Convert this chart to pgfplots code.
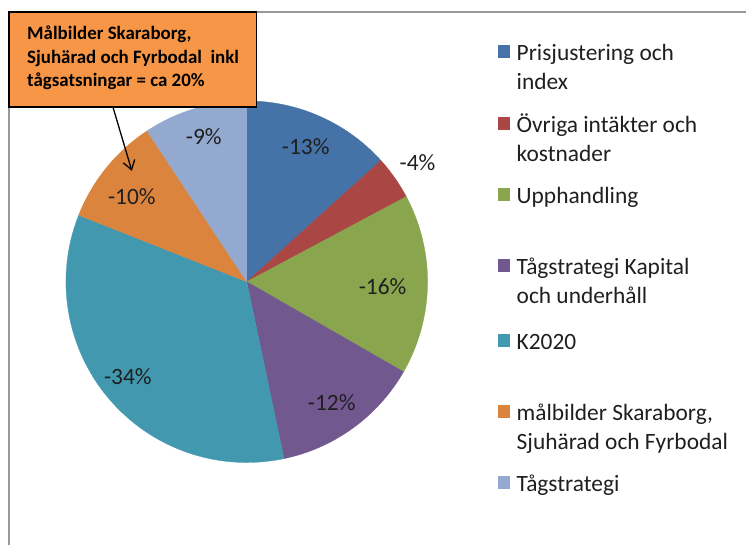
\documentclass[border=0pt]{standalone}
\usepackage{pgfplots}
\pgfplotsset{compat=1.18}
\usepackage{fontspec}
\setmainfont{Carlito}
\usetikzlibrary{arrows.meta}

\definecolor{cBlue}{HTML}{4572A7}
\definecolor{cRed}{HTML}{AA4643}
\definecolor{cGreen}{HTML}{89A54E}
\definecolor{cPurple}{HTML}{71588F}
\definecolor{cTeal}{HTML}{4198AF}
\definecolor{cOrange}{HTML}{DB843D}
\definecolor{cLight}{HTML}{93A9CF}
\definecolor{callout}{HTML}{F79646}
\definecolor{txt}{HTML}{1F1F1F}

% pie centre and radius (in picture pixels)
\def\cx{247}\def\cy{282}\def\rr{181}
% one slice: start %, end %, colour  (clockwise from 12 o'clock)
\newcommand{\slice}[3]{%
  \addplot[fill=#3, draw=#3, line width=0.3pt, domain=#1:#2, samples=60]
    ({\cx+\rr*sin(3.6*x)},{\cy-\rr*cos(3.6*x)}) -- (\cx,\cy) -- cycle;}
% legend text line at baseline y
\newcommand{\legline}[2]{%
  \node[anchor=base west, inner sep=0pt, text=txt,
        font=\fontsize{23.5}{29}\selectfont] at (517,#1) {#2};}
% legend square for entry whose first baseline is y
\newcommand{\legbox}[2]{\fill[#2] (498,#1-16) rectangle (511,#1-3);}
\newcommand{\callline}[2]{%
  \node[anchor=base west, inner sep=0pt, text=black,
        font=\bfseries\fontsize{19}{23.5}\selectfont] at (27,#1) {#2};}

\begin{document}
\begin{tikzpicture}
\begin{axis}[
  scale only axis, width=747bp, height=546bp,
  xmin=0, xmax=747, ymin=0, ymax=546, y dir=reverse,
  hide axis, clip=false,
]
\path (0,0) rectangle (747,546);
% chart frame
\draw[color=black!40, line width=1.5pt] (9,546) -- (9,12) -- (747,12);

% slices: -13, -4, -16, -12, -34, -10, -9 (sizes read from the wedges)
\slice{0}{13.3}{cBlue}
\slice{13.3}{17.2}{cRed}
\slice{17.2}{33.3}{cGreen}
\slice{33.3}{46.7}{cPurple}
\slice{46.7}{81.0}{cTeal}
\slice{81.0}{90.7}{cOrange}
\slice{90.7}{100}{cLight}

% data labels
\begin{scope}[every node/.style={text=txt, font=\fontsize{23.5}{27}\selectfont}]
\node at (306,147) {-13\%};
\node at (418,163) {-4\%};
\node at (383,287) {-16\%};
\node at (332,403) {-12\%};
\node at (128,377) {-34\%};
\node at (132,197) {-10\%};
\node at (204,137) {-9\%};
\end{scope}

% legend
\legbox{61}{cBlue}    \legline{61}{Prisjustering och}  \legline{90}{index}
\legbox{133}{cRed}    \legline{133}{Övriga intäkter och} \legline{162}{kostnader}
\legbox{204}{cGreen}  \legline{204}{Upphandling}
\legbox{275}{cPurple} \legline{275}{Tågstrategi Kapital} \legline{304}{och underhåll}
\legbox{350}{cTeal}   \legline{350}{K2020}
\legbox{421}{cOrange} \legline{421}{målbilder Skaraborg,} \legline{450}{Sjuhärad och Fyrbodal}
\legbox{492}{cLight}  \legline{492}{Tågstrategi}

% callout
\draw[fill=callout, draw=black, line width=1.5pt] (9,12) rectangle (257,107);
\callline{40}{Målbilder Skaraborg,}
\callline{63.5}{Sjuhärad och Fyrbodal\ \ inkl}
\callline{87}{tågsatsningar = ca 20\%}
\draw[line width=1.3pt, -{Straight Barb[length=9pt, width=12pt]}] (113,107) -- (132,171);
\end{axis}
\end{tikzpicture}
\end{document}
